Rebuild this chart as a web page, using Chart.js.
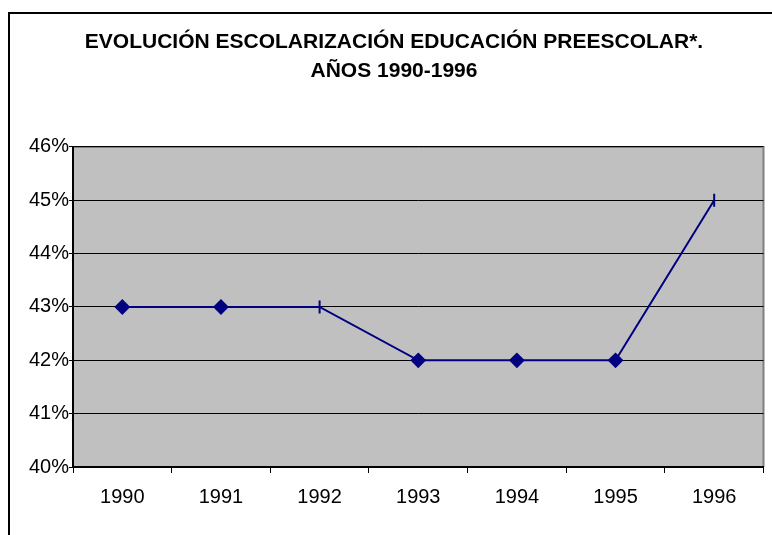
<!DOCTYPE html>
<html>
<head>
<meta charset="utf-8">
<script src="https://cdn.jsdelivr.net/npm/chart.js@4/dist/chart.umd.min.js"></script>
<style>
  html, body { margin: 0; padding: 0; background: #fff; }
  #wrap { width: 772px; height: 535px; }
</style>
</head>
<body>
<div id="wrap"><canvas id="chart" width="772" height="535"></canvas></div>
<script>
// Datos
const years = ['1990', '1991', '1992', '1993', '1994', '1995', '1996'];
const escolarizacion = [43, 43, 43, 42, 42, 42, 45];
const markerStyles = ['rectRot', 'rectRot', 'line', 'rectRot', 'rectRot', 'rectRot', 'line'];
const markerRotation = [0, 0, 90, 0, 0, 0, 90];
const titleLines = ['EVOLUCIÓN ESCOLARIZACIÓN EDUCACIÓN PREESCOLAR*.', 'AÑOS 1990-1996'];

// Fondo gris del área de trazado y marco exterior
const plotBackground = {
  id: 'plotBackground',
  beforeDraw(chart) {
    const { ctx, chartArea: a } = chart;
    ctx.save();
    ctx.fillStyle = '#C0C0C0';
    ctx.fillRect(a.left, a.top, a.right - a.left, a.bottom - a.top);
    ctx.strokeStyle = '#808080';
    ctx.lineWidth = 2;
    ctx.beginPath();
    ctx.moveTo(a.left, a.top);
    ctx.lineTo(a.right, a.top);
    ctx.lineTo(a.right, a.bottom);
    ctx.stroke();
    ctx.strokeStyle = '#000';
    ctx.lineWidth = 2;
    ctx.strokeRect(9, 13, 900, 700);
    ctx.restore();
  }
};

const ctx = document.getElementById('chart').getContext('2d');
new Chart(ctx, {
  type: 'line',
  data: {
    labels: years,
    datasets: [{
      data: escolarizacion,
      borderColor: '#000080',
      backgroundColor: '#000080',
      borderWidth: 2,
      pointStyle: markerStyles,
      rotation: markerRotation,
      pointRadius: 6.5,
      pointBorderWidth: 2,
      pointBackgroundColor: '#000080',
      pointBorderColor: '#000080',
      tension: 0,
      fill: false
    }]
  },
  options: {
    responsive: false,
    animation: false,
    layout: { padding: { left: 24, right: 8, top: 0, bottom: 0 } },
    plugins: {
      legend: { display: false },
      tooltip: { enabled: false },
      title: {
        display: true,
        text: titleLines,
        color: '#000',
        font: { family: 'Arial, "Liberation Sans"', size: 21, weight: 'bold', lineHeight: 1.38 },
        padding: { top: 28, bottom: 61 }
      }
    },
    scales: {
      x: {
        offset: true,
        afterFit(scale) { scale.height = 68; },
        grid: {
          offset: true,
          drawOnChartArea: false,
          drawTicks: true,
          tickLength: 6,
          color: '#000'
        },
        border: { color: '#000', width: 2 },
        ticks: {
          color: '#000',
          padding: 12,
          maxRotation: 0,
          font: { family: 'Arial, "Liberation Sans"', size: 20 }
        }
      },
      y: {
        min: 40,
        max: 46,
        afterFit(scale) { scale.width = 49; },
        grid: {
          color: '#000',
          lineWidth: 1,
          tickLength: 4
        },
        border: { color: '#000', width: 2 },
        ticks: {
          stepSize: 1,
          color: '#000',
          padding: 0,
          font: { family: 'Arial, "Liberation Sans"', size: 20 },
          callback: v => v + '%'
        }
      }
    }
  },
  plugins: [plotBackground]
});
</script>
</body>
</html>
